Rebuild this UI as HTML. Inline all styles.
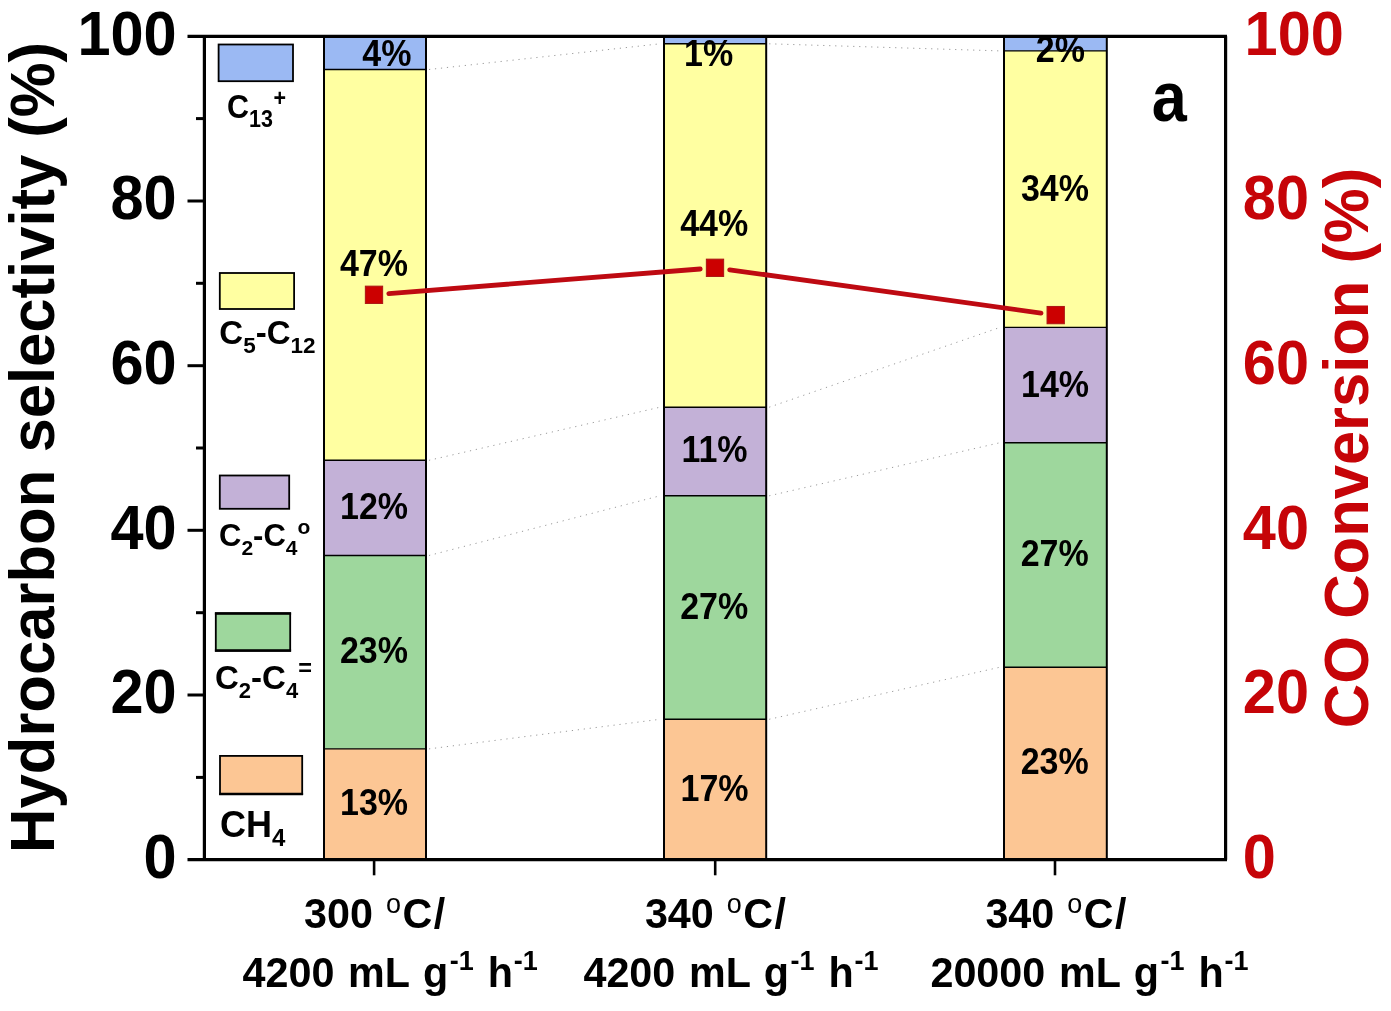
<!DOCTYPE html>
<html lang="en"><head><meta charset="utf-8"><title>Hydrocarbon selectivity and CO conversion</title>
<style>html,body{margin:0;padding:0;background:#fff}body{width:1391px;height:1011px;overflow:hidden}svg{display:block}text{font-family:"Liberation Sans",sans-serif;font-weight:bold;fill:#000}.r{fill:#C60408}</style></head><body>
<svg width="1391" height="1011" viewBox="0 0 1391 1011">
<rect width="1391" height="1011" fill="#fff"/>
<defs><clipPath id="plot"><rect x="204" y="36.3" width="1022" height="824"/></clipPath></defs>
<g stroke="#9a9a9a" stroke-width="1" stroke-dasharray="1.2 4.8" fill="none">
<line x1="429.0" y1="69.5" x2="660.0" y2="43.8"/>
<line x1="429.0" y1="460.3" x2="660.0" y2="407.2"/>
<line x1="429.0" y1="555.5" x2="660.0" y2="495.8"/>
<line x1="429.0" y1="748.9" x2="660.0" y2="719.3"/>
<line x1="769.2" y1="43.8" x2="1000.0" y2="50.9"/>
<line x1="769.2" y1="407.2" x2="1000.0" y2="327.4"/>
<line x1="769.2" y1="495.8" x2="1000.0" y2="442.7"/>
<line x1="769.2" y1="719.3" x2="1000.0" y2="667.2"/>
</g>
<rect x="324.0" y="36.3" width="102.0" height="33.2" fill="#9BB9F3"/>
<rect x="324.0" y="69.5" width="102.0" height="390.8" fill="#FFFFA1"/>
<rect x="324.0" y="460.3" width="102.0" height="95.2" fill="#C3B1D7"/>
<rect x="324.0" y="555.5" width="102.0" height="193.4" fill="#9ED79D"/>
<rect x="324.0" y="748.9" width="102.0" height="110.8" fill="#FCC694"/>
<path d="M324.0 69.5H426.0 M324.0 460.3H426.0 M324.0 555.5H426.0 M324.0 748.9H426.0" stroke="#000" stroke-width="1.4" fill="none"/>
<path d="M324.0 36.3V859.7M426.0 36.3V859.7" stroke="#000" stroke-width="2" fill="none"/>
<rect x="664.0" y="36.3" width="102.2" height="7.5" fill="#9BB9F3"/>
<rect x="664.0" y="43.8" width="102.2" height="363.4" fill="#FFFFA1"/>
<rect x="664.0" y="407.2" width="102.2" height="88.6" fill="#C3B1D7"/>
<rect x="664.0" y="495.8" width="102.2" height="223.5" fill="#9ED79D"/>
<rect x="664.0" y="719.3" width="102.2" height="140.4" fill="#FCC694"/>
<path d="M664.0 43.8H766.2 M664.0 407.2H766.2 M664.0 495.8H766.2 M664.0 719.3H766.2" stroke="#000" stroke-width="1.4" fill="none"/>
<path d="M664.0 36.3V859.7M766.2 36.3V859.7" stroke="#000" stroke-width="2" fill="none"/>
<rect x="1004.0" y="36.3" width="102.8" height="14.6" fill="#9BB9F3"/>
<rect x="1004.0" y="50.9" width="102.8" height="276.5" fill="#FFFFA1"/>
<rect x="1004.0" y="327.4" width="102.8" height="115.3" fill="#C3B1D7"/>
<rect x="1004.0" y="442.7" width="102.8" height="224.5" fill="#9ED79D"/>
<rect x="1004.0" y="667.2" width="102.8" height="192.5" fill="#FCC694"/>
<path d="M1004.0 50.9H1106.8 M1004.0 327.4H1106.8 M1004.0 442.7H1106.8 M1004.0 667.2H1106.8" stroke="#000" stroke-width="1.4" fill="none"/>
<path d="M1004.0 36.3V859.7M1106.8 36.3V859.7" stroke="#000" stroke-width="2" fill="none"/>
<g stroke="#000" stroke-width="1.8">
<rect x="218.6" y="44.5" width="74.4" height="36.7" fill="#9BB9F3"/>
<rect x="219.8" y="273.0" width="74.3" height="36.0" fill="#FFFFA1"/>
<rect x="219.8" y="475.5" width="69.4" height="33.3" fill="#C3B1D7"/>
<rect x="215.8" y="613.3" width="74.4" height="37.5" fill="#9ED79D"/>
<rect x="220.0" y="755.9" width="82.2" height="38.2" fill="#FCC694"/>
</g>
<path d="M214.9 613.6H291.1M214.9 650.5H291.1M219.1 793.9H303.1" stroke="#000" stroke-width="2.5" fill="none"/>
<text transform="translate(227 118) scale(1 1.07)" font-size="30.5">C<tspan font-size="21.5" dy="8.5">13</tspan><tspan font-size="21.5" dy="-19.7" dx="0.5">+</tspan></text>
<text transform="translate(219.3 344.3)" font-size="33">C<tspan font-size="22.5" dy="8.7">5</tspan><tspan dy="-8.7">-C</tspan><tspan font-size="22.5" dy="8.7">12</tspan></text>
<text transform="translate(219 546)" font-size="31">C<tspan font-size="21" dy="8.5">2</tspan><tspan dy="-8.5">-C</tspan><tspan font-size="21" dy="8.5">4</tspan><tspan font-size="21" dy="-21">o</tspan></text>
<text transform="translate(215 689)" font-size="33">C<tspan font-size="22" dy="9">2</tspan><tspan dy="-9">-C</tspan><tspan font-size="22" dy="9">4</tspan><tspan font-size="23.5" dy="-21.8">=</tspan></text>
<text transform="translate(220 837)" font-size="36">CH<tspan font-size="24" dy="9">4</tspan></text>
<g clip-path="url(#plot)">
<text transform="translate(386.8 66.4) scale(1 1.09)" font-size="34" text-anchor="middle">4%</text>
<text transform="translate(373.9 276.1) scale(1 1.09)" font-size="34" text-anchor="middle">47%</text>
<text transform="translate(374 519.4) scale(1 1.09)" font-size="34" text-anchor="middle">12%</text>
<text transform="translate(373.9 663.3) scale(1 1.09)" font-size="34" text-anchor="middle">23%</text>
<text transform="translate(374 814.8) scale(1 1.09)" font-size="34" text-anchor="middle">13%</text>
<text transform="translate(708.6 66.0) scale(1 1.09)" font-size="34" text-anchor="middle">1%</text>
<text transform="translate(714.2 236.1) scale(1 1.09)" font-size="34" text-anchor="middle">44%</text>
<text transform="translate(714.5 462.3) scale(1 1.09)" font-size="34" text-anchor="middle">11%</text>
<text transform="translate(714.2 618.5) scale(1 1.09)" font-size="34" text-anchor="middle">27%</text>
<text transform="translate(714.5 800.6) scale(1 1.09)" font-size="34" text-anchor="middle">17%</text>
<text transform="translate(1060.4 61.7) scale(1 1.09)" font-size="34" text-anchor="middle">2%</text>
<text transform="translate(1054.9 200.8) scale(1 1.09)" font-size="34" text-anchor="middle">34%</text>
<text transform="translate(1055 396.6) scale(1 1.09)" font-size="34" text-anchor="middle">14%</text>
<text transform="translate(1054.7 566.2) scale(1 1.09)" font-size="34" text-anchor="middle">27%</text>
<text transform="translate(1054.7 774.4) scale(1 1.09)" font-size="34" text-anchor="middle">23%</text>
</g>
<g stroke="#000" stroke-width="3.2" fill="none" stroke-linecap="butt">
<path d="M187.5 36.3 H1227"/>
<path d="M187.5 859.7 H1227"/>
<path d="M204.4 36.3 V859.7"/>
<path d="M1225.6 36.3 V859.7"/>
<path d="M187.5 695.0 H204" stroke-width="3"/>
<path d="M187.5 530.3 H204" stroke-width="3"/>
<path d="M187.5 365.7 H204" stroke-width="3"/>
<path d="M187.5 201.0 H204" stroke-width="3"/>
<path d="M196 777.4 H204" stroke-width="3"/>
<path d="M196 612.7 H204" stroke-width="3"/>
<path d="M196 448.0 H204" stroke-width="3"/>
<path d="M196 283.3 H204" stroke-width="3"/>
<path d="M196 118.6 H204" stroke-width="3"/>
<path d="M374.1 859.7 V875.3" stroke-width="2.6"/>
<path d="M715.2 859.7 V875.3" stroke-width="2.6"/>
<path d="M1055.0 859.7 V875.3" stroke-width="2.6"/>
</g>
<g stroke="#BE0A12" stroke-width="4.8" stroke-linecap="round">
<line x1="388.8" y1="293.6" x2="700.2" y2="269.0"/>
<line x1="729.7" y1="269.8" x2="1041.0" y2="313.1"/>
</g>
<rect x="365.35" y="286.15" width="17.3" height="17.3" fill="#CC0000" stroke="#AA1414" stroke-width="1"/>
<rect x="706.35" y="259.15" width="17.3" height="17.3" fill="#CC0000" stroke="#AA1414" stroke-width="1"/>
<rect x="1047.05" y="306.45" width="17.3" height="17.3" fill="#CC0000" stroke="#AA1414" stroke-width="1"/>
<text transform="translate(176.7 877.9) scale(1 1.045)" font-size="59.5" text-anchor="end">0</text>
<text transform="translate(176.7 713.2) scale(1 1.045)" font-size="59.5" text-anchor="end">20</text>
<text transform="translate(176.7 548.5) scale(1 1.045)" font-size="59.5" text-anchor="end">40</text>
<text transform="translate(176.7 383.9) scale(1 1.045)" font-size="59.5" text-anchor="end">60</text>
<text transform="translate(176.7 219.2) scale(1 1.045)" font-size="59.5" text-anchor="end">80</text>
<text transform="translate(176.7 54.5) scale(1 1.045)" font-size="59.5" text-anchor="end">100</text>
<text transform="translate(1242.8 877.9) scale(1 1.045)" font-size="59.5" class="r">0</text>
<text transform="translate(1242.8 713.2) scale(1 1.045)" font-size="59.5" class="r">20</text>
<text transform="translate(1242.8 548.5) scale(1 1.045)" font-size="59.5" class="r">40</text>
<text transform="translate(1242.8 383.9) scale(1 1.045)" font-size="59.5" class="r">60</text>
<text transform="translate(1242.8 219.2) scale(1 1.045)" font-size="59.5" class="r">80</text>
<text transform="translate(1244.6 54.5) scale(1 1.045)" font-size="59.5" class="r">100</text>
<text transform="translate(54.2 447.4) rotate(-90) scale(1 1.01)" font-size="61.6" text-anchor="middle">Hydrocarbon selectivity (%)</text>
<text transform="translate(1368 448) rotate(-90) scale(1 1.01)" font-size="61.5" text-anchor="middle" class="r">CO Conversion (%)</text>
<text transform="translate(1151.7 121.3) scale(1 1.11)" font-size="63">a</text>
<text transform="translate(374.7 928.0) scale(1 1.04)" font-size="41.3" text-anchor="middle">300 <tspan font-size="27" font-weight="normal" dy="-14" dx="1.5">o</tspan><tspan dy="14" dx="1.5">C</tspan><tspan dx="1.5">/</tspan></text>
<text transform="translate(390.1 987.4) scale(1 1.04)" font-size="41.3" text-anchor="middle">4200 <tspan dx="2.2">mL</tspan><tspan dx="1.5"> g</tspan><tspan font-size="27" dy="-16.5" dx="1.5">-1</tspan><tspan dy="16.5" dx="2.5"> h</tspan><tspan font-size="27" dy="-16.5" dx="0.8">-1</tspan></text>
<text transform="translate(715.5 928.0) scale(1 1.04)" font-size="41.3" text-anchor="middle">340 <tspan font-size="27" font-weight="normal" dy="-14" dx="1.5">o</tspan><tspan dy="14" dx="1.5">C</tspan><tspan dx="1.5">/</tspan></text>
<text transform="translate(731 987.4) scale(1 1.04)" font-size="41.3" text-anchor="middle">4200 <tspan dx="2.2">mL</tspan><tspan dx="1.5"> g</tspan><tspan font-size="27" dy="-16.5" dx="1.5">-1</tspan><tspan dy="16.5" dx="2.5"> h</tspan><tspan font-size="27" dy="-16.5" dx="0.8">-1</tspan></text>
<text transform="translate(1056 928.0) scale(1 1.04)" font-size="41.3" text-anchor="middle">340 <tspan font-size="27" font-weight="normal" dy="-14" dx="1.5">o</tspan><tspan dy="14" dx="1.5">C</tspan><tspan dx="1.5">/</tspan></text>
<text transform="translate(1089.5 987.4) scale(1 1.04)" font-size="41.3" text-anchor="middle">20000 <tspan dx="2.2">mL</tspan><tspan dx="1.5"> g</tspan><tspan font-size="27" dy="-16.5" dx="1.5">-1</tspan><tspan dy="16.5" dx="2.5"> h</tspan><tspan font-size="27" dy="-16.5" dx="0.8">-1</tspan></text>
</svg></body></html>
